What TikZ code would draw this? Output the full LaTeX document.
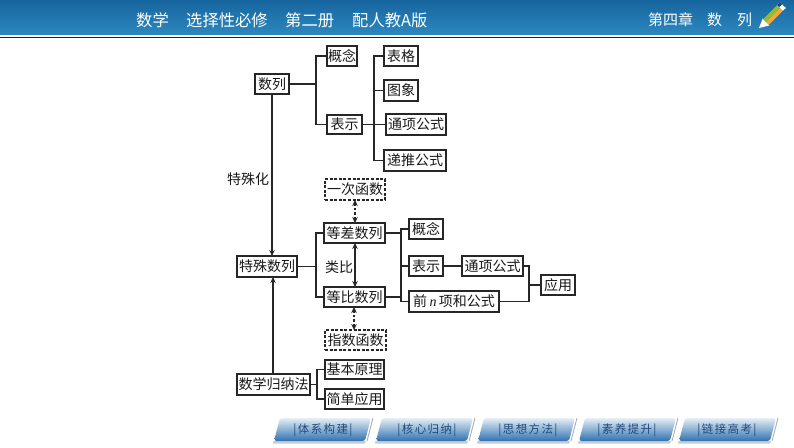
\documentclass[tikz,border=0pt]{standalone}
\usepackage{fontspec}
\usetikzlibrary{arrows.meta,calc}
\newfontfamily\cjk{Noto Sans CJK SC}
\newfontfamily\tabfont[LetterSpace=12]{Noto Sans CJK SC}
\newfontfamily\latinit[Scale=1]{Liberation Serif}
\definecolor{hdtop}{HTML}{17659F}
\definecolor{hdbot}{HTML}{2C88BE}
\definecolor{tabtop}{HTML}{E6EEF6}
\definecolor{tabmid}{HTML}{92B5DA}
\definecolor{tabbot}{HTML}{2F72B2}
\definecolor{tabtx}{HTML}{1F4A78}
\definecolor{pencilor}{HTML}{F2A93B}
\definecolor{pencilgr}{HTML}{8DBB3C}
\definecolor{pencilbl}{HTML}{17456F}
\tikzset{
  boxn/.style={draw=black!85,line width=1.25pt,inner sep=0pt,outer sep=0pt,font=\cjk\fontsize{14}{15}\selectfont,text=black!90,fill=white},
  dashbox/.style={boxn,dash pattern=on 3pt off 1.6pt},
  conn/.style={draw=black!85,line width=1.25pt},
  arr/.style={conn,-{Stealth[length=6pt,width=5.5pt]}},
  darr/.style={conn,{Stealth[length=6pt,width=5.5pt]}-{Stealth[length=6pt,width=5.5pt]}},
  ddarr/.style={darr,dash pattern=on 2.5pt off 1.8pt},
  lab/.style={font=\cjk\fontsize{14}{15}\selectfont,text=black!90,inner sep=0pt},
  head/.style={font=\cjk\fontsize{16.3}{17}\selectfont,text=white,inner sep=0pt,anchor=west},
  headr/.style={head,font=\cjk\fontsize{15}{16}\selectfont},
  tabt/.style={font=\tabfont\fontsize{11.5}{12}\selectfont,text=tabtx,inner sep=0pt},
}
\newcommand{\bx}[7][boxn]{\node[#1,minimum width=#4-#2,minimum height=#5-#3] (#6) at ({(#2+#4)/2},{(#3+#5)/2}) {#7};}
\newcommand{\tabshape}[1]{%
  \fill[black!20] (#1+0.5,441) -- (#1+93,441) -- (#1+92,443.5) -- (#1+0,443.5) -- cycle;
  \shade[top color=tabtop,middle color=tabmid,bottom color=tabbot,rounded corners=2.5pt] (#1+1,441) -- (#1+7,418) -- (#1+98,418) -- (#1+92,441) -- cycle;
  \draw[black!32,line width=.9pt] (#1+100,418) -- (#1+94,441);
}
\begin{document}
\begin{tikzpicture}[x=1pt,y=-1pt]
\useasboundingbox (0,0) rectangle (794,447);
\fill[white] (0,0) rectangle (794,447);
% header
\shade[top color=hdtop,bottom color=hdbot] (0,0) rectangle (794,34.5);
\fill[black!85] (0,36.6) rectangle (794,38);
\node[head] (h1) at (136,20) {数学};
\node[head] (h2) at (186,20) {选择性必修};
\node[head] (h3) at (285,20) {第二册};
\node[head] (h4) at (352,20) {配人教A版};
\node[headr] (h5) at (648,20) {第四章};
\node[headr] (h6) at (707,20) {数};
\node[headr] (h7) at (737,20) {列};
% pencil
\fill[white] (759,28) -- (762.6,18.6) -- (769.4,25.4) -- cycle;
\fill[pencilgr] (763.2,19.2) -- (777.2,5.2) -- (780,8) -- (766,22) -- cycle;
\fill[pencilor] (766,22) -- (780,8) -- (782.8,10.8) -- (768.8,24.8) -- cycle;
\fill[white] (777.2,5.2) -- (780,2.5) -- (785.8,8) -- (782.8,10.8) -- cycle;
\fill[pencilbl] (780,2.5) -- (782,4.3) -- (779.2,7) -- (777.2,5.2) -- cycle;
% boxes top
\bx{255}{74}{289}{94}{sl}{数列}
\bx{327}{46}{357}{66}{gn1}{概念}
\bx{327}{115}{362}{134}{bs1}{表示}
\bx{384}{46}{418}{66}{bg}{表格}
\bx{384}{80}{418}{101}{tx}{图象}
\bx{386}{114}{446}{135}{tx1}{通项公式}
\bx{384}{150}{446}{171}{dt}{递推公式}
% middle
\bx[dashbox]{325}{179}{385}{200}{yc}{一次函数}
\bx{324}{223}{385}{243}{dc}{等差数列}
\bx{324}{287}{385}{307}{db}{等比数列}
\bx[dashbox]{325}{330}{386}{350}{zs}{指数函数}
\bx{237}{256}{297}{277}{ts}{特殊数列}
\bx{409}{219}{443}{239}{gn2}{概念}
\bx{409}{256}{443}{276}{bs2}{表示}
\bx{462}{256}{523}{276}{tx2}{通项公式}
\bx{409}{291}{499}{312}{qn}{前\,{\latinit\itshape n}\,项和公式}
\bx{541}{275}{575}{295}{yy}{应用}
% bottom
\bx{237}{374}{310}{395}{gn}{数学归纳法}
\bx{325}{360}{384}{379}{jb}{基本原理}
\bx{325}{389}{384}{409}{jd}{简单应用}
% labels
\node[lab] (l1) at (248,179) {特殊化};
\node[lab] (l2) at (339,267) {类比};
% junctions
\coordinate (j1) at (316,84);
\coordinate (j2) at (374,124.5);
\coordinate (j3) at (316,266.5);
\coordinate (j4) at (401,233);
\coordinate (j5) at (529,285);
\coordinate (j6) at (317,384.5);
\coordinate (xa) at (272,0);
\coordinate (xb) at (273,0);
\coordinate (xc) at (355,0);
\coordinate (xd) at (354,0);
\draw[conn] (sl.east) -- (j1);
\draw[conn] (gn1.west) -| (j1) |- (bs1.west);
\draw[conn] (bs1.east) -- (tx1.west);
\draw[conn] (bg.west) -| (j2) |- (dt.west);
\draw[conn] (tx.west) -- (tx.west -| j2);
\draw[conn] (ts.east) -- (j3);
\draw[conn] (dc.west) -| (j3) |- (db.west);
\draw[conn] (dc.east) -- (j4);
\draw[conn] (gn2.west) -| (j4) |- (qn.west);
\draw[conn] (db.east) -- (db.east -| j4);
\draw[conn] (bs2.west) -- (bs2.west -| j4);
\draw[conn] (bs2.east) -- (tx2.west);
\draw[conn] (tx2.east) -| (j5) |- (qn.east);
\draw[conn] (j5) -- (yy.west);
\draw[conn] (gn.east) -- (j6);
\draw[conn] (jb.west) -| (j6) |- (jd.west);
\draw[arr] (sl.south -| xa) -- (ts.north -| xa);
\draw[arr] (gn.north -| xb) -- (ts.south -| xb);
\draw[darr] (dc.south -| xc) -- (db.north -| xc);
\draw[ddarr] (yc.south -| xc) -- (dc.north -| xc);
\draw[ddarr] (db.south -| xd) -- (zs.north -| xd);
% tabs
\tabshape{273}
\tabshape{375}
\tabshape{477}
\tabshape{578}
\tabshape{678}
\node[tabt] (t1) at (323,430) {|体系构建|};
\node[tabt] (t2) at (427,430) {|核心归纳|};
\node[tabt] (t3) at (528,430) {|思想方法|};
\node[tabt] (t4) at (627,430) {|素养提升|};
\node[tabt] (t5) at (727,430) {|链接高考|};
\end{tikzpicture}
\end{document}
